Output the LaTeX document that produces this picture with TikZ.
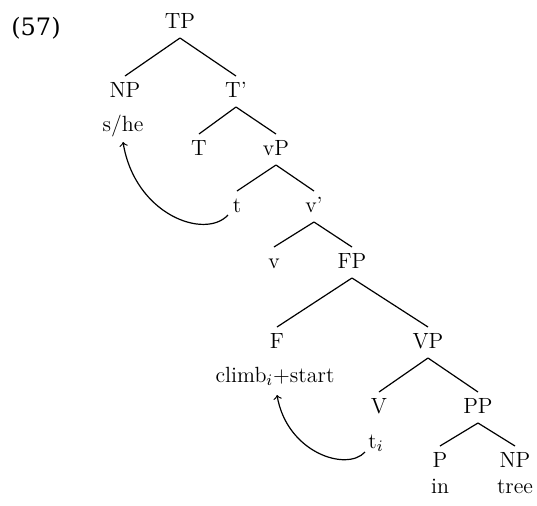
\documentclass[tikz,border=0pt]{standalone}
\usepackage{fontspec}
\newfontfamily\exfont{DejaVu Serif}
\begin{document}
\begin{tikzpicture}[x=0.5pt,y=-0.5pt,
  lbl/.style={anchor=base,inner sep=0pt,font=\fontsize{11}{13}\selectfont},
  branch/.style={line width=0.6pt},
  mv/.style={line width=0.6pt,->}]
\useasboundingbox (0,0) rectangle (537,505);

% example number
\node[anchor=base,inner sep=0pt,font=\exfont\fontsize{12}{14}\selectfont] (ex) at (36,35) {(57)};

% categories
\node[lbl] (TP)   at (180,28)  {TP};
\node[lbl] (NP)   at (125,97)  {NP};
\node[lbl] (Tbar) at (236,97)  {T'};
\node[lbl] (T)    at (199,155) {T};
\node[lbl] (vP)   at (276,155) {vP};
\node[lbl] (t)    at (237,212) {t};
\node[lbl] (vbar) at (314,212) {v'};
\node[lbl] (v)    at (274,268) {v};
\node[lbl] (FP)   at (352,268) {FP};
\node[lbl] (F)    at (277,348) {F};
\node[lbl] (VP)   at (428,348) {VP};
\node[lbl] (V)    at (379,413) {V};
\node[lbl] (PP)   at (478,413) {PP};
\node[lbl] (P)    at (440,467) {P};
\node[lbl] (NPb)  at (515,467) {NP};

% words
\node[lbl] (she)   at (123,131) {s/he};
\node[lbl] (climb) at (275,382) {climb$_i$+start};
\node[lbl] (ti)    at (376,448) {t$_i$};
\node[lbl] (in)    at (440,493) {in};
\node[lbl] (tree)  at (515,493) {tree};

% branches
\foreach \p/\c in {TP/NP, TP/Tbar, Tbar/T, Tbar/vP, vP/t, vP/vbar,
                   vbar/v, vbar/FP, FP/F, FP/VP, VP/V, VP/PP, PP/P, PP/NPb}
  \draw[branch] ([yshift=-5pt]\p.base) -- ([yshift=10.5pt]\c.base);

% movement arrows
\draw[mv] ([shift={(-9,3)}]t.base) .. controls +(-23,25) and +(12,73) .. ([shift={(0,11)}]she.base);
\draw[mv] ([shift={(-11,4)}]ti.base) .. controls +(-18,20) and +(10,58) .. ([shift={(2,13)}]climb.base);
\end{tikzpicture}
\end{document}
